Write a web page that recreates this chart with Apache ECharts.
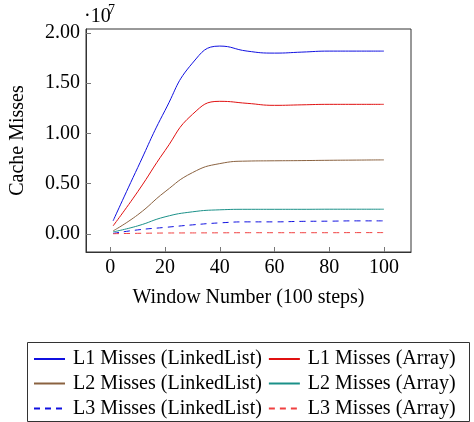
<!DOCTYPE html>
<html>
<head>
<meta charset="utf-8">
<script src="https://cdn.jsdelivr.net/npm/echarts@6/dist/echarts.min.js"></script>
<style>
  html, body { margin: 0; padding: 0; background: #fff; }
  #chart { width: 474px; height: 422px; }
</style>
</head>
<body>
<div id="chart"></div>
<script>
// window numbers (x) and cache misses, in units of 10^7
var windows = [1, 10, 20, 30, 40, 50, 60, 70, 80, 90, 100];
var l1Linked = [0.13, 0.66, 1.23, 1.70, 1.87, 1.82, 1.80, 1.81, 1.82, 1.82, 1.82];
var l1Array  = [0.08, 0.42, 0.83, 1.19, 1.32, 1.30, 1.28, 1.285, 1.29, 1.29, 1.29];
var l2Linked = [0.03, 0.19, 0.42, 0.61, 0.70, 0.725, 0.728, 0.73, 0.733, 0.735, 0.737];
var l2Array  = [0.02, 0.08, 0.17, 0.22, 0.24, 0.245, 0.245, 0.245, 0.246, 0.246, 0.246];
var l3Linked = [0.005, 0.04, 0.065, 0.09, 0.11, 0.12, 0.12, 0.125, 0.127, 0.13, 0.13];
var l3Array  = [0.002, 0.006, 0.009, 0.010, 0.011, 0.012, 0.012, 0.012, 0.012, 0.013, 0.013];

var xTicks = [0, 20, 40, 60, 80, 100];
var yTicks = [0, 0.5, 1, 1.5, 2];

var FONT = 'Liberation Serif';

function pairs(ys) {
    return windows.map(function (x, i) { return [x, ys[i]]; });
}

function line(name, ys, color, dashed) {
    return {
        name: name,
        type: 'line',
        data: pairs(ys),
        smooth: 0.5,
        symbol: 'none',
        showSymbol: false,
        lineStyle: {color: color, width: 1, type: dashed ? [6, 5] : 'solid'},
        itemStyle: {color: color}
    };
}

var chart = echarts.init(document.getElementById('chart'));
var legendBase = {
    left: 33,
    padding: 0,
    itemWidth: 31,
    itemHeight: 14,
    itemGap: 6,
    itemStyle: {opacity: 0},
    textStyle: {fontFamily: FONT, fontSize: 20, color: '#000', lineHeight: 20, padding: [0, 0, 0, 3]}
};

chart.setOption({
    animation: false,
    grid: {
        left: 83, top: 29, width: 328, height: 223,
        show: true, borderColor: '#333', borderWidth: 1
    },
    xAxis: {
        type: 'value',
        min: -8.9,
        max: 109.9,
        name: 'Window Number (100 steps)',
        nameLocation: 'middle',
        nameGap: 46,
        nameTextStyle: {fontFamily: FONT, fontSize: 20, color: '#000', verticalAlign: 'middle'},
        axisLine: {show: true, onZero: false, lineStyle: {color: '#333'}},
        axisTick: {show: true, inside: true, length: 5, customValues: xTicks, lineStyle: {color: '#777'}},
        axisLabel: {customValues: xTicks, margin: 6, fontFamily: FONT, fontSize: 20, color: '#000'},
        splitLine: {show: false}
    },
    yAxis: {
        type: 'value',
        min: -0.18,
        max: 2.04,
        name: 'Cache Misses',
        nameLocation: 'middle',
        nameGap: 68,
        nameRotate: 90,
        nameTextStyle: {fontFamily: FONT, fontSize: 20, color: '#000', verticalAlign: 'middle'},
        axisLine: {show: true, onZero: false, lineStyle: {color: '#333'}},
        axisTick: {show: true, inside: true, length: 5, customValues: yTicks, lineStyle: {color: '#777'}},
        axisLabel: {
            customValues: yTicks, margin: 6, fontFamily: FONT, fontSize: 20, color: '#000',
            formatter: function (v) { return v.toFixed(2); }
        },
        splitLine: {show: false}
    },
    legend: [
        Object.assign({top: 349, data: ['L1 Misses (LinkedList)', 'L1 Misses (Array)']}, legendBase),
        Object.assign({top: 373.5, data: ['L2 Misses (LinkedList)', 'L2 Misses (Array)']}, legendBase),
        Object.assign({top: 398.5, data: ['L3 Misses (LinkedList)', 'L3 Misses (Array)']}, legendBase)
    ],
    graphic: [
        {
            type: 'rect',
            shape: {x: 27.5, y: 342.5, width: 442, height: 79},
            style: {fill: 'none', stroke: '#333', lineWidth: 1},
            silent: true
        },
        {
            type: 'text', x: 84, y: 17,
            style: {text: '·10', font: '20px "Liberation Serif"', fill: '#000', textVerticalAlign: 'middle'}
        },
        {
            type: 'text', x: 108, y: 10,
            style: {text: '7', font: '14px "Liberation Serif"', fill: '#000', textVerticalAlign: 'middle'}
        }
    ],
    series: [
        line('L1 Misses (LinkedList)', l1Linked, '#1010e0', false),
        line('L1 Misses (Array)', l1Array, '#e01010', false),
        line('L2 Misses (LinkedList)', l2Linked, '#8a6240', false),
        line('L2 Misses (Array)', l2Array, '#1a9088', false),
        line('L3 Misses (LinkedList)', l3Linked, '#1010e0', true),
        line('L3 Misses (Array)', l3Array, '#f04040', true)
    ]
});
</script>
</body>
</html>
